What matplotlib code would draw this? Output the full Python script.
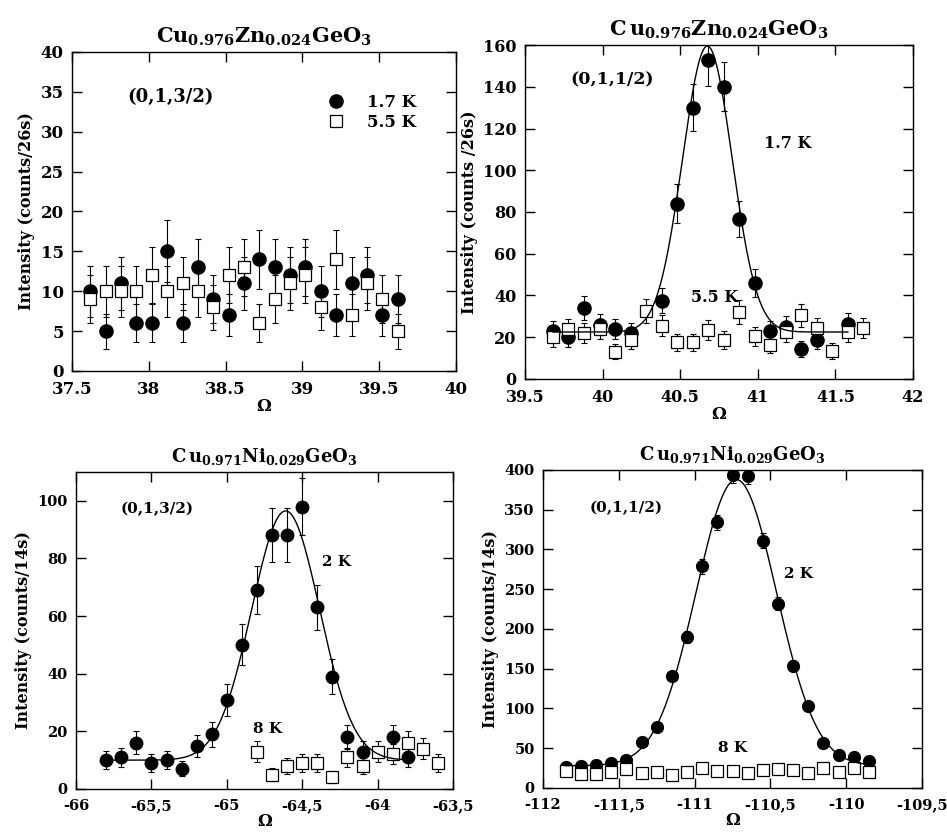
import numpy as np
import matplotlib
matplotlib.use('Agg')
import matplotlib.pyplot as plt
from matplotlib.lines import Line2D

plt.rcParams['font.family'] = 'DejaVu Serif'
plt.rcParams['font.weight'] = 'bold'
plt.rcParams['mathtext.fontset'] = 'dejavuserif'
plt.rcParams['axes.unicode_minus'] = False

# ---- panel A: Cu0.976Zn0.024GeO3 (0,1,3/2) ----
a_x = [37.62, 37.72, 37.82, 37.92, 38.02, 38.12, 38.22, 38.32, 38.42, 38.52, 38.62,
       38.72, 38.82, 38.92, 39.02, 39.12, 39.22, 39.32, 39.42, 39.52, 39.62]
a_low = [10, 5, 11, 6, 6, 15, 6, 13, 9, 7, 11, 14, 13, 12, 13, 10, 7, 11, 12, 7, 9]
a_low_err = [3.2, 2.2, 3.3, 2.4, 2.4, 3.9, 2.4, 3.6, 3.0, 2.6, 3.3, 3.7, 3.6, 3.5, 3.6,
             3.2, 2.6, 3.3, 3.5, 2.6, 3.0]
a_high = [9, 10, 10, 10, 12, 10, 11, 10, 8, 12, 13, 6, 9, 11, 12, 8, 14, 7, 11, 9, 5]
a_high_err = [3.0, 3.2, 3.2, 3.2, 3.5, 3.2, 3.3, 3.2, 2.8, 3.5, 3.6, 2.4, 3.0, 3.3, 3.5,
              2.8, 3.7, 2.6, 3.3, 3.0, 2.2]

# ---- panel B: Cu0.976Zn0.024GeO3 (0,1,1/2) ----
b_low_x = [39.68, 39.78, 39.88, 39.98, 40.08, 40.18, 40.38, 40.48, 40.58, 40.68, 40.78,
           40.88, 40.98, 41.08, 41.18, 41.28, 41.38, 41.58]
b_low = [23, 20, 34, 26, 24, 22, 37.5, 84, 130, 153, 140, 76.5, 46, 23, 25, 14.5, 18.5, 26.5]
b_low_err = [4.8, 4.5, 5.8, 5.1, 4.9, 4.7, 6.1, 9.2, 11.4, 12.4, 11.8, 8.7, 6.8, 4.8, 5.0,
             3.8, 4.3, 5.1]
b_high_x = [39.68, 39.78, 39.88, 39.98, 40.08, 40.18, 40.28, 40.38, 40.48, 40.58, 40.68,
            40.78, 40.88, 40.98, 41.08, 41.18, 41.28, 41.38, 41.48, 41.58, 41.68]
b_high = [20, 24, 22, 24, 13, 18.5, 32.5, 25.5, 17.5, 17.5, 23.5, 18.5, 32, 20.5, 16.5,
          22.5, 30.5, 24.5, 13.5, 22.5, 24.5]
b_high_err = [4.5, 4.9, 4.7, 4.9, 3.6, 4.3, 5.7, 5.0, 4.2, 4.2, 4.8, 4.3, 5.7, 4.5, 4.1,
              4.7, 5.5, 4.9, 3.7, 4.7, 4.9]
b_fit = dict(bg=22.5, amp=137, x0=40.675, sig=0.16, lo=39.68, hi=41.58)

# ---- panel C: Cu0.971Ni0.029GeO3 (0,1,3/2) ----
c_low_x = [-65.8, -65.7, -65.6, -65.5, -65.4, -65.3, -65.2, -65.1, -65.0, -64.9, -64.8,
           -64.7, -64.6, -64.5, -64.4, -64.3, -64.2, -64.1, -63.9, -63.8]
c_low = [10, 11, 16, 9, 10, 7, 15, 19, 31, 50, 69, 88, 88, 98, 63, 39, 18, 13, 18, 11]
c_low_err = [3.2, 3.3, 4.0, 3.0, 3.2, 2.6, 3.9, 4.4, 5.6, 7.1, 8.3, 9.4, 9.4, 9.9, 7.9,
             6.2, 4.2, 3.6, 4.2, 3.3]
c_high_x = [-64.8, -64.7, -64.6, -64.5, -64.4, -64.3, -64.2, -64.1, -64.0, -63.9, -63.8,
            -63.7, -63.6]
c_high = [13, 5, 8, 9, 9, 4, 11, 8, 13, 12, 16, 14, 9]
c_high_err = [3.6, 2.2, 2.8, 3.0, 3.0, 2.0, 3.3, 2.8, 3.6, 3.5, 4.0, 3.7, 3.0]
c_fit = dict(bg=10, amp=86.5, x0=-64.61, sig=0.225, lo=-65.8, hi=-63.8)

# ---- panel D: Cu0.971Ni0.029GeO3 (0,1,1/2) ----
d_x = [-111.85, -111.75, -111.65, -111.55, -111.45, -111.35, -111.25, -111.15, -111.05,
       -110.95, -110.85, -110.75, -110.65, -110.55, -110.45, -110.35, -110.25, -110.15,
       -110.05, -109.95, -109.85]
d_low = [27, 28, 29, 31, 35, 58, 77, 141, 190, 279, 334, 394, 393, 311, 232, 154, 103, 57,
         41.5, 39, 34]
d_low_err = [2.9, 2.9, 3.0, 3.1, 3.3, 4.2, 4.8, 6.5, 7.6, 9.2, 10.0, 10.9, 10.9, 9.7, 8.4,
             6.8, 5.6, 4.1, 3.5, 3.4, 3.2]
d_high = [21, 17, 17, 20.5, 24, 19, 20.5, 16, 20.5, 25, 21, 21, 18.5, 22.5, 24, 22.5, 19,
          25.5, 20.5, 25, 20.5]
d_high_err = [2.5] * 21
d_fit = dict(bg=28, amp=360, x0=-110.725, sig=0.265, lo=-111.85, hi=-109.85)

panels = [
    dict(rect=[0.0760, 0.5541, 0.4055, 0.3834],
         title=r'$\mathbf{Cu}_{\mathbf{0.976}}\mathbf{Zn}_{\mathbf{0.024}}\mathbf{GeO}_{\mathbf{3}}$',
         ylabel='Intensity (counts/26s)',
         xlim=(37.5, 40), ylim=(0, 40),
         xticks=[37.5, 38, 38.5, 39, 39.5, 40],
         xlabels=['37.5', '38', '38.5', '39', '39.5', '40'],
         yticks=[0, 5, 10, 15, 20, 25, 30, 35, 40],
         low=(a_x, a_low, a_low_err), high=(a_x, a_high, a_high_err), fit=None,
         texts=[('(0,1,3/2)', 38.14, 34.4, 13)], ms=9.5, tfs=15, lfs=12),
    dict(rect=[0.5544, 0.5445, 0.4097, 0.4014],
         title=r'$\mathbf{C\,u}_{\mathbf{0.976}}\mathbf{Zn}_{\mathbf{0.024}}\mathbf{GeO}_{\mathbf{3}}$',
         ylabel='Intensity (counts /26s)',
         xlim=(39.5, 42), ylim=(0, 160),
         xticks=[39.5, 40, 40.5, 41, 41.5, 42],
         xlabels=['39.5', '40', '40.5', '41', '41.5', '42'],
         yticks=[0, 20, 40, 60, 80, 100, 120, 140, 160],
         low=(b_low_x, b_low, b_low_err), high=(b_high_x, b_high, b_high_err), fit=b_fit,
         texts=[('(0,1,1/2)', 40.06, 143.2, 12.5), ('1.7 K', 41.19, 112.6, 11.5),
                ('5.5 K', 40.72, 38.8, 11.5)],
         ms=9.5, tfs=15, lfs=11.5),
    dict(rect=[0.0803, 0.0517, 0.3981, 0.3810],
         title=r'$\mathbf{C\,u}_{\mathbf{0.971}}\mathbf{Ni}_{\mathbf{0.029}}\mathbf{GeO}_{\mathbf{3}}$',
         ylabel='Intensity (counts/14s)',
         xlim=(-66, -63.5), ylim=(0, 110),
         xticks=[-66, -65.5, -65, -64.5, -64, -63.5],
         xlabels=['-66', '-65,5', '-65', '-64,5', '-64', '-63,5'],
         yticks=[0, 20, 40, 60, 80, 100],
         low=(c_low_x, c_low, c_low_err), high=(c_high_x, c_high, c_high_err), fit=c_fit,
         texts=[('(0,1,3/2)', -65.46, 97.2, 11), ('2 K', -64.276, 78.7, 11),
                ('8 K', -64.727, 20.9, 11)],
         ms=9, tfs=13, lfs=10.5),
    dict(rect=[0.5734, 0.0529, 0.4002, 0.3822],
         title=r'$\mathbf{C\,u}_{\mathbf{0.971}}\mathbf{Ni}_{\mathbf{0.029}}\mathbf{GeO}_{\mathbf{3}}$',
         ylabel='Intensity (counts/14s)',
         xlim=(-112, -109.5), ylim=(0, 400),
         xticks=[-112, -111.5, -111, -110.5, -110, -109.5],
         xlabels=['-112', '-111,5', '-111', '-110,5', '-110', '-109,5'],
         yticks=[0, 50, 100, 150, 200, 250, 300, 350, 400],
         low=(d_x, d_low, d_low_err), high=(d_x, d_high, d_high_err), fit=d_fit,
         texts=[('(0,1,1/2)', -111.453, 351.6, 11), ('2 K', -110.313, 269, 11),
                ('8 K', -110.749, 50.7, 11)],
         ms=8.5, tfs=13, lfs=10.5),
]

fig = plt.figure(figsize=(9.47, 8.32), dpi=100)

for p in panels:
    ax = fig.add_axes(p['rect'])
    x, y, e = p['low']
    ax.errorbar(x, y, yerr=e, fmt='none', ecolor='k', elinewidth=0.8,
                capsize=2.5, capthick=0.8, zorder=2)
    ax.plot(x, y, 'o', color='k', ms=p['ms'], zorder=3)
    x, y, e = p['high']
    ax.errorbar(x, y, yerr=e, fmt='none', ecolor='k', elinewidth=0.8,
                capsize=2.5, capthick=0.8, zorder=4)
    ax.plot(x, y, 's', mfc='white', mec='k', mew=0.9, ms=p['ms'] - 0.5, zorder=5)
    f = p['fit']
    if f is not None:
        xx = np.linspace(f['lo'], f['hi'], 400)
        ax.plot(xx, f['bg'] + f['amp'] * np.exp(-0.5 * ((xx - f['x0']) / f['sig']) ** 2),
                color='k', lw=1.0, zorder=6)
    for s, tx, ty, fs in p['texts']:
        ax.text(tx, ty, s, fontsize=fs, fontweight='bold', ha='center', va='center')

    ax.set_xlim(*p['xlim'])
    ax.set_ylim(*p['ylim'])
    ax.set_xticks(p['xticks'])
    ax.set_xticklabels(p['xlabels'])
    ax.set_yticks(p['yticks'])
    ax.tick_params(direction='in', top=True, right=True, length=7, width=1,
                   labelsize=p['lfs'])
    ax.tick_params(axis='x', pad=7.5)
    ax.tick_params(axis='y', pad=6)
    for sp in ax.spines.values():
        sp.set_linewidth(1.0)
    ax.set_title(p['title'], fontsize=p['tfs'], pad=7)
    ax.set_ylabel(p['ylabel'], fontsize=11.5, fontweight='bold', labelpad=4)
    ax.set_xlabel('Ω', fontsize=12, fontweight='bold', labelpad=0)

    if p is panels[0]:
        handles = [Line2D([], [], marker='o', ls='none', color='k', ms=9.5),
                   Line2D([], [], marker='s', ls='none', mfc='white', mec='k', mew=0.9, ms=9)]
        ax.legend(handles, ['1.7 K', '5.5 K'], loc='upper left', bbox_to_anchor=(0.635, 0.905),
                  frameon=False, fontsize=12, handlelength=1.0, handletextpad=1.4,
                  labelspacing=0.2, borderpad=0.2)

fig.savefig('out.png', dpi=100)
